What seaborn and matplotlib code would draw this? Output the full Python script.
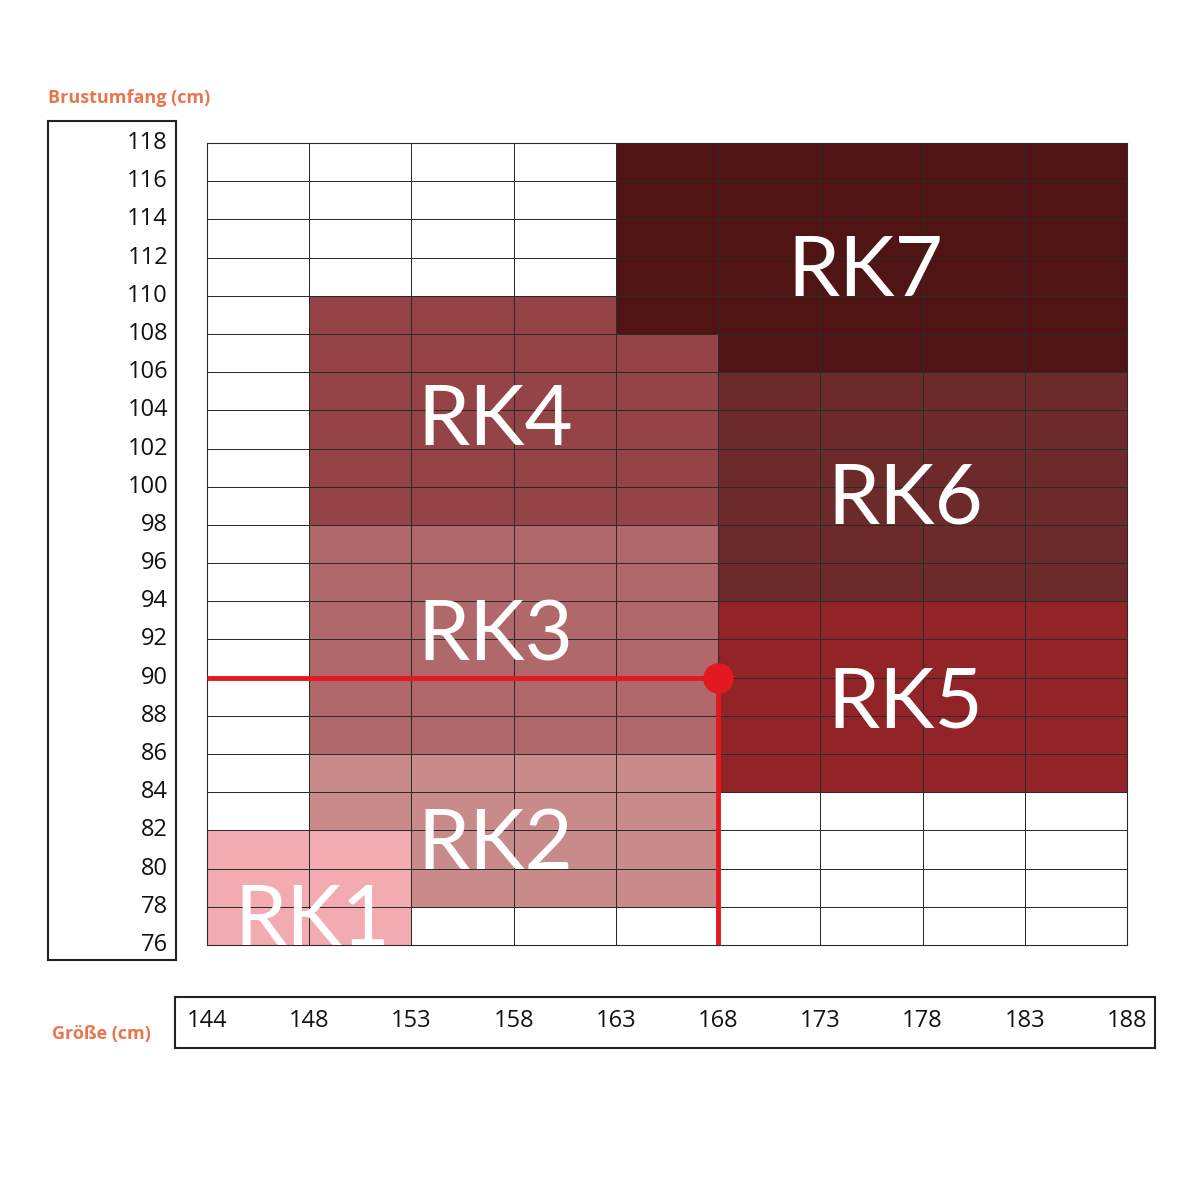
import numpy as np
import matplotlib
matplotlib.use("Agg")
import matplotlib.pyplot as plt
import matplotlib.transforms as mtransforms
from matplotlib.colors import ListedColormap
import seaborn as sns

sns.set_theme(style="white")
plt.rcParams['font.family'] = ['Open Sans', 'DejaVu Sans']

# === Daten ===
groessen = [144, 148, 153, 158, 163, 168, 173, 178, 183, 188]   # Spaltengrenzen (cm)
brust = list(range(118, 74, -2))                                  # Zeilengrenzen 118 ... 76 (cm)

# Bereiche: (Klasse, Größe von, Größe bis, Brust von, Brust bis)
bereiche = [
    (1, 144, 153, 76, 82),
    (2, 148, 153, 82, 86),
    (2, 153, 168, 78, 86),
    (3, 148, 168, 86, 98),
    (4, 148, 163, 98, 110),
    (4, 163, 168, 98, 108),
    (5, 168, 188, 84, 94),
    (6, 168, 188, 94, 106),
    (7, 163, 188, 108, 118),
    (7, 168, 188, 106, 108),
]
klassen = ["RK1", "RK2", "RK3", "RK4", "RK5", "RK6", "RK7"]
farben = ["#FFFFFF", "#F2ACB1", "#C98A8A", "#B0686A", "#944447",
          "#922326", "#6D2A2A", "#511415"]

# Beispielpunkt
punkt_groesse = 168
punkt_brust = 90

# Matrix aufbauen (Zeile 0 = oben, 118-116)
n_rows = len(brust) - 1
n_cols = len(groessen) - 1
matrix = np.zeros((n_rows, n_cols), dtype=int)
for k, g0, g1, b0, b1 in bereiche:
    c0, c1 = groessen.index(g0), groessen.index(g1)
    r0, r1 = brust.index(b1), brust.index(b0)
    matrix[r0:r1, c0:c1] = k

fig = plt.figure(figsize=(12, 12), dpi=100)
ax = fig.add_axes([0.1725, 0.2125, 0.7667, 0.6683])

sns.heatmap(matrix, ax=ax, cmap=ListedColormap(farben), vmin=-0.5, vmax=7.5,
            cbar=False, linewidths=0.7, linecolor="#2b2b2b", square=False)
ax.set_xticks([])
ax.set_yticks([])
ax.set_xlim(0, n_cols)
ax.set_ylim(n_rows, 0)
for s in ax.spines.values():
    s.set_visible(True)
    s.set_color("#2b2b2b")
    s.set_linewidth(0.8)


def x_pos(g):
    return groessen.index(g)


def y_pos(b):
    return (brust[0] - b) / 2


# Klassenbeschriftung (Spaltenindex, Brustumfang der Grundlinie)
label_pos = {"RK1": (1.03, 76.0), "RK2": (2.82, 80.0), "RK3": (2.82, 90.9),
             "RK4": (2.82, 102.2), "RK5": (6.83, 87.4), "RK6": (6.83, 98.1),
             "RK7": (6.44, 110.0)}
for name in klassen:
    xi, b = label_pos[name]
    ax.text(xi, y_pos(b), name, color="white", fontsize=60, fontweight="normal",
            ha="center", va="baseline", family=["Lato", "DejaVu Sans"])

# Roter Markierungspunkt
ax.plot([0, x_pos(punkt_groesse)], [y_pos(punkt_brust)] * 2, color="#E3191F", lw=3.5,
        solid_capstyle="butt", zorder=5)
ax.plot([x_pos(punkt_groesse)] * 2, [y_pos(punkt_brust), n_rows], color="#E3191F", lw=3.5,
        solid_capstyle="butt", zorder=5)
ax.plot(x_pos(punkt_groesse), y_pos(punkt_brust), "o", color="#E3191F", ms=22,
        markeredgewidth=0, zorder=6)

# Linke Box (Brustumfang)
box_l = fig.add_axes([0.04, 0.2, 0.1067, 0.699])
box_l.set_xticks([]); box_l.set_yticks([])
box_l.set_facecolor("none")
for s in box_l.spines.values():
    s.set_color("#222222"); s.set_linewidth(1.5)
trans_y = mtransforms.blended_transform_factory(fig.transFigure, ax.transData)
for b in brust:
    ax.text(0.14, y_pos(b), str(b), transform=trans_y, ha="right", va="center",
            fontsize=17, color="#111111")

# Untere Box (Größe)
box_b = fig.add_axes([0.1458, 0.1267, 0.8167, 0.0425])
box_b.set_xticks([]); box_b.set_yticks([])
box_b.set_facecolor("none")
for s in box_b.spines.values():
    s.set_color("#222222"); s.set_linewidth(1.5)
trans_x = mtransforms.blended_transform_factory(ax.transData, fig.transFigure)
for g in groessen:
    ax.text(x_pos(g), 1 - 1021 / 1200, str(g), transform=trans_x, ha="center", va="center",
            fontsize=17, color="#111111")

# Achsentitel
fig.text(0.04, 1 - 98 / 1200, "Brustumfang (cm)", color="#E8764F", fontsize=13,
         fontweight="bold", ha="left", va="center")
fig.text(0.043, 1 - 1034 / 1200, "Größe (cm)", color="#E8764F", fontsize=13,
         fontweight="bold", ha="left", va="center")

fig.savefig("out.png", dpi=100, facecolor="white")
